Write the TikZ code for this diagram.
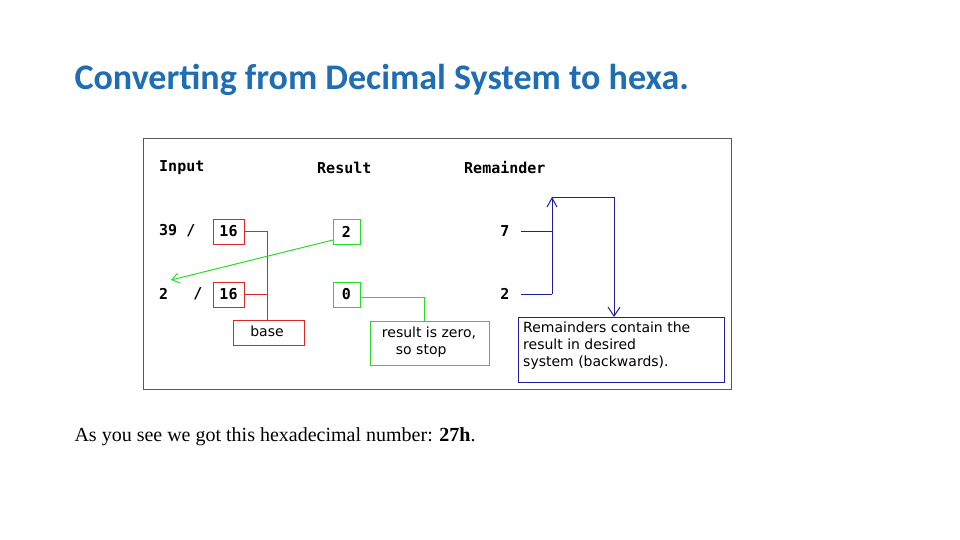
\documentclass[tikz,border=0pt]{standalone}
\usepackage{fontspec}
\setmainfont{Liberation Serif}
\newfontfamily\titlefont{Carlito}
\newfontfamily\monofont{DejaVu Sans Mono}
\newfontfamily\boxfont{DejaVu Sans}
\usetikzlibrary{calc,arrows.meta}
\definecolor{titleblue}{RGB}{31,110,180}
\definecolor{redline}{RGB}{220,40,40}
\definecolor{greenline}{RGB}{40,220,40}
\definecolor{blueline}{RGB}{30,30,160}
\tikzset{
  lbl/.style={inner sep=0pt,font=\monofont\bfseries\fontsize{15}{15}\selectfont},
  redbox/.style={draw=redline,line width=1pt},
  greenbox/.style={draw=greenline,line width=1pt},
  bluebox/.style={draw=blueline,line width=1pt},
  note/.style={align=left,inner sep=0pt,font=\boxfont\fontsize{14}{17}\selectfont},
}
\begin{document}
\begin{tikzpicture}[x=1pt,y=-1pt]
    \useasboundingbox (0,0) rectangle (960,540);

    \node[anchor=west,text=titleblue,font=\titlefont\bfseries\fontsize{36}{36}\selectfont] (title) at (71,80) {Converting from Decimal System to hexa.};

    % frame of the table
    \draw[gray!70!black,line width=1pt] (143,139) rectangle (731,389);

    \node[lbl,anchor=west] (hin) at (159,168) {Input};
    \node[lbl,anchor=west] (hres) at (317,168) {Result};
    \node[lbl,anchor=west] (hrem) at (464,168) {Remainder};

    % input column
    \node[lbl,anchor=west] (in1) at (159,231) {39 /};
    \node[lbl,anchor=west] (in2) at (159,294) {2};
    \node[lbl] (sl2) at (198,294) {/};
    \draw[redbox] (213,219) rectangle (244,244);
    \node[lbl] (b1) at (228.5,231.5) {16};
    \draw[redbox] (213,282) rectangle (244,307);
    \node[lbl] (b2) at (228.5,294.5) {16};
    \draw[redbox] (233,320) rectangle (304,345);
    \node[font=\boxfont\fontsize{14}{14}\selectfont] (base) at (267,331) {base};
    \draw[redline,line width=1pt] (244,231) -- (267,231) -- (267,320) (244,294) -- (267,294);

    % result column
    \draw[greenbox] (333,219) rectangle (360,244);
    \node[lbl] (r1) at (346.5,231.5) {2};
    \draw[greenbox] (333,282) rectangle (360,307);
    \node[lbl] (r2) at (346.5,294.5) {0};
    \draw[greenbox] (370,321) rectangle (489,365);
    \node[note] (stop) at (429,342) {result is zero,\\\hspace*{1em}so stop};
    \draw[greenline,line width=1pt] (360,297) -- (424,297) -- (424,321);
    \draw[greenline,line width=1pt,-{Straight Barb[length=7pt,width=10pt]}] (333,240) -- (171,280);

    % remainder column
    \node[lbl] (m1) at (505,231) {7};
    \node[lbl] (m2) at (505,294) {2};
    \draw[bluebox] (518,317) rectangle (724,382);
    \node[note,anchor=north west] (rem) at (523,322) {Remainders contain the\\result in desired\\system (backwards).};
    \draw[blueline,line width=1pt] (521,231) -- (552,231) (521,294) -- (552,294);
    \draw[blueline,line width=1pt,-{Straight Barb[length=9pt,width=10pt]}] (552,294) -- (552,197);
    \draw[blueline,line width=1pt,-{Straight Barb[length=9pt,width=12pt]}] (552,197) -- (614,197) -- (614,317);

    \node[anchor=west,font=\fontsize{20}{20}\selectfont] (concl) at (71,437) {As you see we got this hexadecimal number: \textbf{27h}.};
\end{tikzpicture}
\end{document}
